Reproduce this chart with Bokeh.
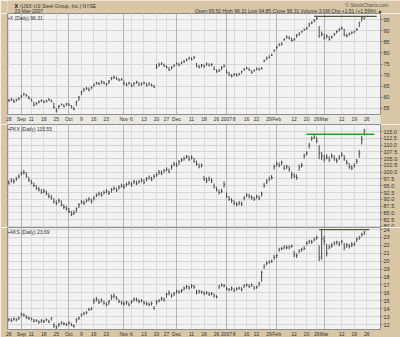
import pandas as pd
from bokeh.plotting import figure
from bokeh.layouts import column
from bokeh.models import (Range1d, FixedTicker, Label, Grid, ColumnDataSource,
                          PrintfTickFormatter, LinearAxis)
from bokeh.core.properties import value
from bokeh.embed import file_html
from bokeh.resources import INLINE

# ---------------- data ----------------
holidays = ["2006-09-04", "2006-11-23", "2006-12-25", "2007-01-01", "2007-01-02",
            "2007-01-15", "2007-02-19"]
first_day, last_axis_day = "2006-08-28", "2007-03-30"

tick_dates = ["2006-08-28", "2006-09-05", "2006-09-11", "2006-09-18", "2006-09-25",
              "2006-10-02", "2006-10-09", "2006-10-16", "2006-10-23", "2006-11-01",
              "2006-11-06", "2006-11-13", "2006-11-20", "2006-11-27", "2006-12-01",
              "2006-12-11", "2006-12-18", "2006-12-26", "2007-01-03", "2007-01-08",
              "2007-01-16", "2007-01-22", "2007-01-29", "2007-02-01", "2007-02-12",
              "2007-02-20", "2007-02-26", "2007-03-01", "2007-03-12", "2007-03-19",
              "2007-03-26"]
tick_labels = ["28", "Sep", "11", "18", "25", "Oct", "9", "16", "23", "Nov", "6", "13",
               "20", "27", "Dec", "11", "18", "26", "2007", "8", "16", "22", "29", "Feb",
               "12", "20", "26", "Mar", "12", "19", "26"]

# X (US Steel)
x_close = [58.5, 59.0, 58.0, 58.8, 59.3, 60.5, 61.5, 60.8, 59.5, 58.5,
           56.5, 57.2, 58.0, 58.5, 57.8, 58.3, 59.0, 58.2, 55.5, 54.0,
           56.0, 56.8, 55.8, 57.0, 56.5, 55.5, 54.5, 58.0, 60.0, 62.5,
           63.5, 64.0, 63.2, 64.5, 65.5, 66.5, 66.0, 67.0, 66.2, 65.8,
           67.2, 68.5, 69.0, 68.2, 67.8, 68.0, 66.0, 65.5, 66.5, 65.0,
           66.2, 66.8, 65.5, 66.0, 66.5, 65.2, 66.0, 65.3, 64.5, 73.5,
           74.5, 75.0, 74.0, 73.5, 72.2, 73.5, 74.2, 75.0, 74.5, 75.5,
           76.0, 76.8, 77.5, 77.0, 78.0, 74.0, 73.5, 74.5, 73.8, 75.0,
           74.2, 74.8, 72.5, 71.5, 72.0, 73.5, 74.0, 71.0, 70.0, 69.5,
           70.3, 69.8, 70.5, 71.5, 72.5, 73.0, 72.2, 71.0, 72.0, 72.8,
           72.5, 73.0, 76.5, 77.5, 78.0, 79.0, 81.0, 82.5, 83.5, 84.0,
           86.0, 87.0, 86.5, 85.5, 86.0, 88.0, 88.5, 89.5, 90.5, 91.0,
           93.0, 93.5, 94.5, 95.5, 87.5, 88.5, 86.5, 87.5, 86.0, 87.0,
           88.5, 89.5, 90.5, 91.0, 88.0, 87.5, 88.5, 89.0, 89.5, 90.5,
           93.5, 95.8, 96.31]
x_high = [59.3, 59.8, 59.2, 59.4, 60.0, 61.2, 62.0, 61.6, 60.6, 59.6,
          58.0, 57.9, 58.6, 59.2, 58.7, 58.9, 59.6, 59.1, 57.6, 55.2,
          56.6, 57.3, 56.9, 57.5, 57.4, 56.6, 55.6, 58.5, 60.6, 63.0,
          64.2, 64.8, 64.4, 65.0, 66.2, 67.0, 66.9, 67.6, 67.3, 66.6,
          67.8, 69.2, 69.8, 69.3, 68.6, 68.7, 67.5, 66.6, 67.0, 66.3,
          66.8, 67.5, 66.9, 66.7, 67.1, 66.5, 66.7, 66.2, 65.6, 75.0,
          75.6, 75.8, 75.2, 74.4, 73.6, 74.0, 74.9, 75.8, 75.5, 76.1,
          76.8, 77.5, 78.3, 78.0, 78.6, 75.5, 74.6, 75.0, 74.8, 75.6,
          75.3, 75.4, 74.0, 72.6, 72.7, 74.0, 74.8, 72.5, 71.5, 70.4,
          70.9, 70.8, 71.0, 72.0, 73.2, 73.8, 73.3, 72.2, 72.6, 73.4,
          73.3, 73.6, 77.0, 78.3, 78.9, 79.6, 81.6, 83.2, 84.4, 84.8,
          86.6, 87.9, 87.6, 86.8, 86.7, 88.5, 89.3, 90.0, 91.0, 91.7,
          93.6, 94.2, 95.2, 96.4, 92.0, 89.6, 88.6, 88.4, 87.6, 87.8,
          89.0, 90.2, 91.2, 91.9, 90.9, 88.6, 89.2, 89.6, 90.0, 91.2,
          94.0, 96.2, 96.31]
x_low = [58.0, 58.3, 57.6, 58.1, 58.7, 59.6, 60.8, 60.3, 59.2, 58.1,
         56.0, 56.5, 57.3, 57.9, 57.4, 57.7, 58.4, 57.8, 55.0, 53.2,
         54.8, 56.3, 55.5, 56.1, 56.2, 55.0, 54.3, 56.2, 58.4, 61.0,
         62.6, 63.3, 62.8, 63.6, 64.8, 65.7, 65.5, 66.1, 66.0, 65.0,
         66.0, 67.7, 68.3, 67.9, 67.2, 67.5, 65.6, 65.0, 65.7, 64.7,
         65.2, 66.1, 65.2, 65.3, 65.9, 64.9, 65.3, 65.0, 64.3, 72.8,
         73.8, 74.6, 73.7, 73.0, 71.9, 72.5, 73.6, 74.7, 74.0, 74.9,
         75.5, 76.3, 77.0, 76.6, 77.2, 73.6, 73.0, 73.5, 73.4, 74.2,
         73.9, 74.1, 72.3, 71.1, 71.4, 72.2, 73.4, 70.8, 69.6, 69.1,
         69.6, 69.4, 69.9, 70.7, 72.0, 72.7, 71.9, 70.7, 71.5, 72.2,
         72.0, 72.6, 75.8, 76.9, 77.5, 78.6, 80.5, 81.6, 83.0, 83.4,
         85.4, 86.5, 86.0, 85.1, 85.3, 86.8, 87.7, 89.1, 89.9, 90.4,
         91.6, 92.9, 93.8, 94.8, 86.8, 87.6, 86.0, 86.5, 85.5, 86.4,
         87.6, 88.8, 89.6, 90.4, 87.5, 87.0, 87.7, 88.4, 88.9, 89.9,
         91.6, 94.1, 94.85]

# PKX
pkx_close = [96.0, 97.0, 96.5, 97.5, 98.5, 99.5, 100.0, 98.5,
             97.0, 96.0, 95.0, 94.0, 93.5, 92.5, 93.0, 92.0, 91.0, 90.5,
             89.0, 88.5, 89.5, 88.0, 87.0, 86.5, 85.5, 84.5, 85.0,
             86.5, 88.0, 89.0, 88.5, 89.5, 90.0, 89.2, 90.5, 91.5,
             92.0, 91.5, 92.5, 93.0, 92.2, 93.5, 94.0, 93.2, 94.5, 95.0,
             94.5, 95.5, 96.0, 95.2, 96.5, 95.8, 96.5, 97.0, 96.2, 97.5, 98.0, 97.2,
             98.5, 99.0, 100.0, 99.5, 100.5, 101.0, 100.2,
             102.0, 103.0, 102.5, 103.8, 104.5, 105.0, 105.8, 104.8, 105.5, 104.0,
             103.0, 102.0, 102.5, 97.5, 96.8, 97.5, 96.8,
             94.5, 93.5, 92.5, 93.0, 95.5,
             91.0, 90.0, 89.5, 88.5, 88.0, 88.5, 88.2,
             90.5, 91.5, 91.0, 90.5, 90.0, 91.0, 90.3, 92.0,
             95.0, 96.5, 97.5, 98.0, 102.0, 103.0, 102.5, 103.5,
             101.5, 102.0, 101.0, 99.0, 98.5, 98.0, 102.0, 102.5,
             106.0, 107.0, 110.0, 112.5, 113.0, 111.5, 107.0, 106.0, 105.0,
             105.5, 104.5, 106.0, 105.0, 104.2, 105.5, 106.5, 105.0,
             103.5, 102.0, 101.5, 102.5, 104.0, 107.0, 112.0, 115.55]
pkx_high = [97.0, 97.8, 97.6, 98.3, 99.2, 100.3, 100.8, 100.0,
            98.3, 97.2, 96.2, 95.3, 94.6, 93.8, 93.9, 93.2, 92.2, 91.6,
            90.4, 89.6, 90.3, 89.6, 88.2, 87.6, 86.8, 85.7, 85.9,
            87.0, 88.6, 89.7, 89.5, 90.2, 90.8, 90.3, 91.2, 92.2,
            92.8, 92.6, 93.2, 93.8, 93.2, 94.2, 94.8, 94.3, 95.2, 95.8,
            95.6, 96.2, 96.8, 96.4, 97.2, 96.9, 97.2, 97.8, 97.4, 98.2, 98.8, 98.3,
            99.2, 99.8, 100.8, 100.6, 101.2, 101.8, 101.3,
            102.8, 103.8, 103.6, 104.5, 105.3, 105.8, 106.4, 106.0, 106.2, 105.3,
            104.3, 103.2, 103.3, 98.6, 98.0, 98.4, 97.8,
            95.8, 94.6, 93.6, 93.9, 96.6,
            92.5, 91.2, 90.4, 89.6, 89.0, 89.4, 89.2,
            91.2, 92.3, 92.0, 91.5, 90.9, 91.7, 91.4, 92.8,
            96.0, 97.4, 98.3, 98.9, 102.8, 103.9, 103.6, 104.3,
            102.6, 102.8, 102.2, 100.3, 99.6, 99.2, 102.8, 103.4,
            106.8, 107.8, 110.8, 113.2, 113.8, 113.0, 110.0, 107.4, 106.4,
            106.6, 105.8, 106.9, 106.2, 105.2, 106.3, 107.4, 106.3,
            104.6, 103.4, 102.6, 103.3, 104.9, 108.2, 113.4, 116.0]
pkx_low = [95.4, 96.2, 95.8, 96.8, 97.8, 98.8, 99.2, 98.0,
           96.5, 95.5, 94.5, 93.5, 92.9, 92.0, 92.3, 91.5, 90.4, 89.9,
           88.5, 87.8, 88.7, 87.4, 86.4, 85.8, 84.9, 83.8, 84.2,
           85.1, 86.8, 88.3, 87.9, 88.8, 89.3, 88.5, 89.6, 90.8,
           91.3, 91.0, 91.8, 92.2, 91.6, 92.4, 93.3, 92.6, 93.5, 94.3,
           93.9, 94.7, 95.3, 94.7, 95.6, 95.2, 95.8, 96.2, 95.6, 96.6, 97.3, 96.7,
           97.6, 98.3, 99.1, 98.9, 99.8, 100.3, 99.6,
           101.0, 102.2, 101.9, 102.7, 103.8, 104.2, 105.0, 104.1, 104.7, 103.5,
           102.4, 101.4, 101.8, 96.8, 96.0, 96.7, 96.0,
           94.0, 92.9, 91.8, 92.3, 94.3,
           90.5, 89.4, 88.7, 87.8, 87.4, 87.8, 87.6,
           89.6, 90.8, 90.4, 89.9, 89.4, 90.2, 89.7, 91.0,
           94.2, 95.6, 96.7, 97.3, 101.0, 102.2, 101.8, 102.6,
           100.8, 101.2, 100.2, 97.6, 97.8, 97.2, 100.6, 101.7,
           105.0, 106.2, 108.8, 111.6, 112.2, 110.6, 104.8, 104.4, 103.9,
           104.7, 103.8, 105.1, 104.2, 103.4, 104.6, 105.7, 104.2,
           102.8, 101.2, 100.8, 101.7, 103.1, 105.3, 110.2, 113.6]

# AKS
aks_close = [12.6, 12.5, 12.7, 12.6, 12.8, 13.3, 13.2, 12.9, 12.8, 12.7,
             12.4, 12.5, 12.3, 12.5, 12.4, 12.6, 12.3, 12.8, 11.8, 11.7,
             12.0, 12.2, 12.1, 12.0, 12.2, 11.9, 11.8, 12.6, 12.8,
             13.2, 13.4, 13.5, 13.9, 14.0, 15.0, 15.2, 14.8, 15.1,
             14.7, 14.5, 14.9, 15.5, 15.6, 15.3, 14.9, 14.7, 14.6, 14.8, 14.5,
             14.9, 15.2, 15.1, 14.9, 15.0, 14.7, 14.6, 14.5, 14.7, 14.0,
             14.8, 15.0, 15.3, 15.1, 15.8, 16.0, 15.6, 15.9,
             16.2, 16.1, 16.3, 16.6, 16.8, 16.6, 16.9, 16.7,
             16.0, 16.2, 16.1, 15.9, 16.0, 15.8, 15.9, 15.6, 15.5,
             16.8, 17.0, 16.9, 16.5, 16.4, 16.6, 16.3, 16.5, 16.6, 16.4,
             16.9, 17.0, 16.8, 17.0, 16.6, 16.7, 17.2, 18.6, 19.4,
             19.7, 19.9, 20.0, 20.5, 20.7, 21.5, 21.6, 21.8, 21.7, 21.8, 21.9,
             20.8, 20.7, 21.3, 21.5, 21.6, 22.3, 22.5, 22.4, 22.8, 23.0,
             20.5, 22.8, 22.6, 21.0, 21.8, 22.0, 22.3,
             22.4, 22.1, 22.5, 21.7, 22.0, 21.9, 22.1, 22.2,
             22.8, 23.0, 23.4, 23.69]
aks_high = [12.8, 12.8, 12.9, 12.8, 13.0, 13.5, 13.4, 13.2, 13.0, 12.9,
            12.7, 12.7, 12.5, 12.7, 12.6, 12.8, 12.6, 12.9, 12.2, 11.9,
            12.2, 12.4, 12.3, 12.2, 12.4, 12.2, 12.0, 12.8, 13.0,
            13.4, 13.6, 13.7, 14.1, 14.2, 15.3, 15.5, 15.2, 15.3,
            15.0, 14.8, 15.1, 15.8, 15.9, 15.6, 15.2, 15.0, 14.9, 15.0, 14.8,
            15.1, 15.4, 15.4, 15.2, 15.2, 15.0, 14.9, 14.8, 14.9, 14.3,
            15.1, 15.2, 15.5, 15.4, 16.0, 16.3, 15.9, 16.1,
            16.4, 16.3, 16.5, 16.8, 17.0, 16.9, 17.1, 17.0,
            16.4, 16.4, 16.3, 16.2, 16.2, 16.1, 16.1, 15.9, 15.7,
            17.0, 17.2, 17.1, 16.8, 16.6, 16.8, 16.6, 16.7, 16.8, 16.7,
            17.1, 17.2, 17.1, 17.2, 16.9, 16.9, 17.4, 18.8, 19.6,
            20.0, 20.1, 20.2, 20.8, 20.9, 21.7, 21.8, 22.0, 22.0, 22.0, 22.1,
            21.3, 21.0, 21.5, 21.7, 21.9, 22.5, 22.7, 22.7, 23.0, 23.2,
            22.0, 24.0, 23.2, 22.2, 22.1, 22.3, 22.5,
            22.6, 22.5, 22.7, 22.3, 22.3, 22.2, 22.4, 22.4,
            23.0, 23.2, 23.6, 23.8]
aks_low = [12.4, 12.3, 12.5, 12.4, 12.6, 13.0, 13.0, 12.7, 12.6, 12.5,
           12.3, 12.3, 12.1, 12.2, 12.2, 12.4, 12.2, 12.5, 11.6, 11.4,
           11.7, 12.0, 11.9, 11.8, 12.0, 11.8, 11.6, 12.2, 12.6,
           13.0, 13.2, 13.3, 13.7, 13.8, 14.6, 14.9, 14.6, 14.8,
           14.5, 14.3, 14.5, 15.1, 15.3, 15.1, 14.7, 14.5, 14.4, 14.5, 14.3,
           14.6, 14.9, 14.9, 14.7, 14.8, 14.5, 14.4, 14.3, 14.4, 13.9,
           14.5, 14.8, 15.0, 14.9, 15.4, 15.7, 15.4, 15.6,
           15.9, 15.9, 16.0, 16.3, 16.5, 16.4, 16.6, 16.5,
           15.8, 15.9, 15.9, 15.7, 15.8, 15.6, 15.7, 15.4, 15.3,
           16.5, 16.8, 16.7, 16.3, 16.2, 16.3, 16.1, 16.3, 16.4, 16.2,
           16.6, 16.8, 16.6, 16.8, 16.4, 16.5, 16.8, 17.4, 19.0,
           19.5, 19.7, 19.8, 20.2, 20.4, 21.2, 21.4, 21.5, 21.5, 21.5, 21.7,
           20.5, 20.4, 21.0, 21.2, 21.4, 22.0, 22.2, 22.2, 22.5, 22.7,
           20.0, 20.2, 22.1, 20.6, 21.5, 21.7, 22.0,
           22.1, 21.9, 22.2, 21.4, 21.7, 21.6, 21.8, 21.9,
           22.4, 22.7, 23.1, 23.3]

x_ticks = [55, 60, 65, 70, 75, 80, 85, 90, 95]
pkx_ticks = [80.0, 82.5, 85.0, 87.5, 90.0, 92.5, 95.0, 97.5, 100.0, 102.5, 105.0,
             107.5, 110.0, 112.5, 115.0]
aks_ticks = [12, 13, 14, 15, 16, 17, 18, 19, 20, 21, 22, 23, 24]

# resistance lines: (start date, end date, level)
x_line = ("2007-02-23", "2007-03-30", 96.4)
pkx_line = ("2007-02-20", "2007-03-29", 114.0)
aks_line = ("2007-02-27", "2007-03-27", 24.0)

header_left_1 = "(USX-US Steel Group, Inc.) NYSE"
header_left_2 = "23-Mar-2007"
header_right_1 = "\u00a9 StockCharts.com"
header_right_2 = "Open 95.50  High 96.31  Low 94.85  Close 96.31  Volume 3.0M  Chg +1.51 (+1.59%) \u25b2"

for arr in (x_close, x_high, x_low, pkx_close, pkx_high, pkx_low, aks_close, aks_high, aks_low):
    assert len(arr) == 143, len(arr)

# ---------------- styling / layout ----------------
TAN = "#d8c6a6"
PANEL_BG = "#f2f2f2"
BAR = "#4a4a4a"
TXT = "#333333"
FONT = "Liberation Sans"
FW, LEFT, RIGHT = 373, 7, 20

cal = [d for d in pd.bdate_range(first_day, last_axis_day) if d.strftime("%Y-%m-%d") not in holidays]
pos = {d.strftime("%Y-%m-%d"): k for k, d in enumerate(cal)}
tick_pos = [pos[d] for d in tick_dates]
month_pos = [p for p, l in zip(tick_pos, tick_labels) if len(l) > 2]
day_pos = [p for p, l in zip(tick_pos, tick_labels) if len(l) <= 2]
XR = Range1d(-0.5, len(cal) + 0.5)


def date_axis(p, bg):
    ax = LinearAxis(ticker=FixedTicker(ticks=tick_pos),
                    major_label_overrides={k: l for k, l in zip(tick_pos, tick_labels)})
    ax.axis_line_color = "#8e8e8e"
    ax.major_tick_line_color = None
    ax.minor_tick_line_color = None
    ax.major_tick_out = 0
    ax.major_tick_in = 0
    ax.major_label_standoff = 1
    ax.major_label_text_font_size = "5px"
    ax.major_label_text_font = FONT
    ax.major_label_text_color = TXT
    if bg is not None and hasattr(ax, "background_fill_color"):
        ax.background_fill_color = bg
    p.add_layout(ax, "below")


def panel(h, yr, ticks, close, high, low, line, label, line_color, fmt=None,
          axis_bg=None, with_axis=False, bottom=0):
    p = figure(frame_width=FW, frame_height=h, x_range=XR, y_range=Range1d(*yr),
               x_axis_location=None, y_axis_location="right", toolbar_location=None,
               output_backend="svg", min_border_left=LEFT, min_border_right=RIGHT,
               min_border_top=0, min_border_bottom=bottom, background_fill_color=PANEL_BG,
               border_fill_color=TAN, outline_line_color="#8e8e8e")
    p.xgrid.visible = False
    ax = p.yaxis[0]
    ax.ticker = FixedTicker(ticks=ticks)
    if fmt:
        ax.formatter = PrintfTickFormatter(format=fmt)
    ax.axis_line_color = None
    ax.major_tick_line_color = "#777777"
    ax.major_tick_out = 2
    ax.major_tick_in = 0
    ax.minor_tick_line_color = None
    ax.major_label_standoff = 1
    ax.major_label_text_font_size = "5.5px"
    ax.major_label_text_font = FONT
    ax.major_label_text_color = TXT
    p.ygrid.grid_line_color = "#d6d6d6"
    p.add_layout(Grid(dimension=0, ticker=FixedTicker(ticks=day_pos), grid_line_color="#d9d9d9"))
    p.add_layout(Grid(dimension=0, ticker=FixedTicker(ticks=month_pos), grid_line_color="#b4b4b4"))
    if with_axis:
        date_axis(p, axis_bg)

    idx = list(range(len(close)))
    src = ColumnDataSource(dict(x=idx, xr=[i + 0.45 for i in idx], hi=high, lo=low, cl=close))
    p.segment(x0="x", y0="lo", x1="x", y1="hi", source=src, line_color=BAR, line_width=1)
    p.segment(x0="x", y0="cl", x1="xr", y1="cl", source=src, line_color=BAR, line_width=1)

    p.segment(x0=[pos[line[0]]], y0=[line[2]], x1=[pos[line[1]]], y1=[line[2]],
              line_color=line_color, line_width=1.3)

    p.add_layout(Label(x=-0.3, y=yr[1], y_offset=-1.5, text=label, text_baseline="top",
                       text_font_size="5px", text_font=FONT, text_color=TXT))
    return p


p1 = panel(101, (52.3, 97.7), x_ticks, x_close, x_high, x_low, x_line,
           "\u25aaX (Daily) %.2f" % x_close[-1], "#55553a",
           axis_bg="#e9e7e2", with_axis=True, bottom=7)
p2 = panel(103, (79.6, 117.6), pkx_ticks, pkx_close, pkx_high, pkx_low, pkx_line,
           "\u25aaPKX (Daily) %.2f" % pkx_close[-1], "#22a022", fmt="%.1f")
p3 = panel(102, (11.37, 24.26), aks_ticks, aks_close, aks_high, aks_low, aks_line,
           "\u25aaAKS (Daily) %.2f" % aks_close[-1], "#55553a",
           with_axis=True, bottom=10)
p3.below[0].axis_line_color = None

# header
hdr = figure(frame_width=400, frame_height=13, x_range=Range1d(0, 400), y_range=Range1d(13, 0),
             x_axis_location=None, y_axis_location=None, toolbar_location=None,
             output_backend="svg", min_border=0, background_fill_color=TAN,
             border_fill_color=TAN, outline_line_color=None)
hdr.grid.visible = False
hdr.text(x=[7], y=[5], text=["X"], text_font=value(FONT), text_font_size="5.5px",
         text_font_style="bold", text_baseline="middle", text_color="#111111")
hdr.text(x=[12.5], y=[5], text=[header_left_1], text_font=value(FONT), text_font_size="5px",
         text_baseline="middle", text_color=TXT)
hdr.text(x=[7], y=[10.3], text=[header_left_2], text_font=value(FONT), text_font_size="5px",
         text_baseline="middle", text_color=TXT)
hdr.text(x=[381], y=[4], text=[header_right_1], text_font=value(FONT), text_font_size="5px",
         text_align="right", text_baseline="middle", text_color="#555555")
hdr.text(x=[382], y=[10.3], text=[header_right_2], text_font=value(FONT), text_font_size="5px",
         text_align="right", text_baseline="middle", text_color=TXT)

layout = column(hdr, p1, p2, p3, spacing=0)
open("out.html", "w").write(file_html(layout, INLINE))
